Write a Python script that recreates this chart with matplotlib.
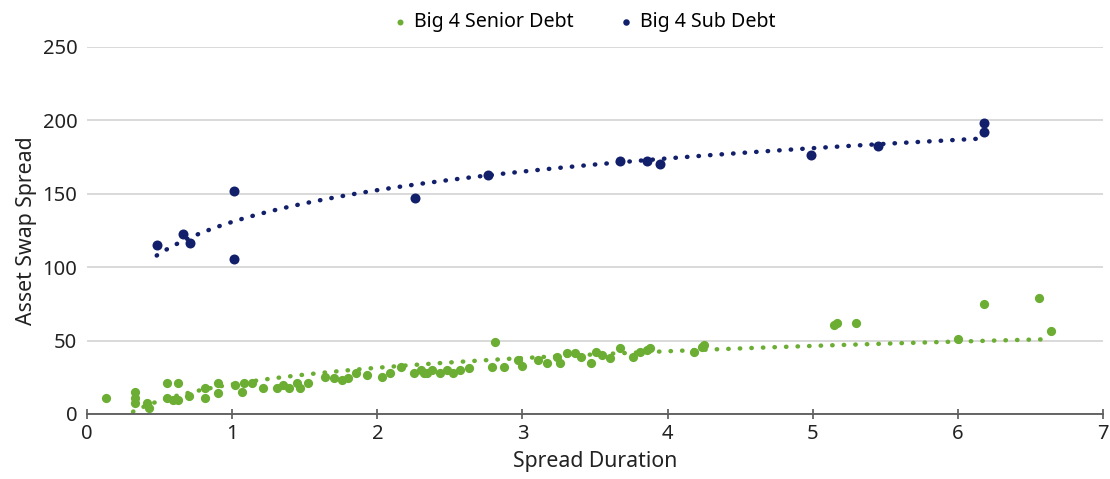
"""Asset swap spread vs spread duration for Big 4 senior and sub debt."""

import matplotlib

matplotlib.use("Agg")
import matplotlib.pyplot as plt
import numpy as np

GREEN = "#6cae34"
NAVY = "#121f6b"

senior_duration = [
    0.13, 0.33, 0.33, 0.33, 0.41, 0.43, 0.55, 0.63, 0.55, 0.59, 0.63, 0.70,
    0.81, 0.81, 0.90, 0.90, 1.02, 1.07, 1.08, 1.14, 1.21, 1.31, 1.35, 1.39,
    1.45, 1.47, 1.52, 1.64, 1.70, 1.76, 1.80, 1.85, 1.93, 2.03, 2.09, 2.16,
    2.25, 2.30, 2.34, 2.32, 2.38, 2.43, 2.48, 2.52, 2.57, 2.63, 2.81, 2.79,
    2.87, 2.97, 3.00, 3.11, 3.17, 3.24, 3.26, 3.31, 3.36, 3.40, 3.47, 3.51,
    3.55, 3.60, 3.67, 3.76, 3.81, 3.86, 3.88, 4.18, 4.24, 4.25, 5.15, 5.17,
    5.30, 6.00, 6.18, 6.56, 6.64,
]
senior_spread = [
    11, 15, 11, 7.5, 7.5, 4, 21, 21, 11, 9.5, 9.5, 12,
    18, 11, 21, 14, 20, 15, 21, 21, 18, 18, 20, 18,
    21, 18, 21, 25, 24.5, 23, 24.5, 28, 26.5, 25, 28, 32,
    28, 30, 28, 28, 30, 28, 30, 28, 30, 31, 49, 32,
    32, 37, 33, 37, 35, 39, 35, 41.5, 41.5, 39, 35, 42,
    40, 38, 45, 39, 42, 43.5, 45, 42, 45.5, 47, 60.5, 62,
    62, 51, 75, 79, 56.5,
]

sub_duration = [0.48, 0.66, 0.71, 1.01, 1.01, 2.26, 2.76, 3.67, 3.86, 3.95,
                4.99, 5.45, 6.18, 6.18]
sub_spread = [115, 122.5, 116.5, 152, 105.5, 147, 163, 172.5, 172, 170,
              176.5, 182.5, 198.5, 192]

x_ticks = [0, 1, 2, 3, 4, 5, 6, 7]
y_ticks = [0, 50, 100, 150, 200, 250]


def log_trend(x, y):
    """Logarithmic trendline across the data range, like a spreadsheet fit."""
    x = np.asarray(x)
    slope, intercept = np.polyfit(np.log(x), np.asarray(y), 1)
    xs = np.linspace(x.min(), x.max(), 300)
    return xs, intercept + slope * np.log(xs)


plt.rcParams["font.family"] = ["Noto Sans", "DejaVu Sans"]

fig = plt.figure(figsize=(11.1, 4.79), dpi=100)
ax = fig.add_axes([0.0784, 0.1357, 0.9153, 0.7662])

ax.scatter(senior_duration, senior_spread, s=44, color=GREEN, linewidths=0,
           zorder=3, label="Big 4 Senior Debt")
ax.scatter(sub_duration, sub_spread, s=52, color=NAVY, linewidths=0,
           zorder=3, label="Big 4 Sub Debt")

for xs_data, ys_data, colour in [(senior_duration, senior_spread, GREEN),
                                 (sub_duration, sub_spread, NAVY)]:
    tx, ty = log_trend(xs_data, ys_data)
    ax.plot(tx, ty, color=colour, linewidth=3.2, linestyle=(0, (0.1, 2.5)),
            dash_capstyle="round", zorder=2)

ax.set_xlim(0, 7)
ax.set_ylim(0, 250)
ax.set_xticks(x_ticks)
ax.set_yticks(y_ticks)
ax.yaxis.grid(True, color="#d9d9d9", linewidth=1.4)
ax.set_axisbelow(True)
for side in ["left", "right", "top"]:
    ax.spines[side].set_visible(False)
ax.spines["bottom"].set_color("#595959")
ax.spines["bottom"].set_linewidth(1.3)
ax.tick_params(axis="x", direction="inout", length=7, width=1.2,
               color="#595959", labelsize=14.5, labelcolor="#222222", pad=4)
ax.tick_params(axis="y", length=0, labelsize=14.5, labelcolor="#222222", pad=7)

ax.set_xlabel("Spread Duration", fontsize=15.3, color="#222222", labelpad=5)
ax.set_ylabel("Asset Swap Spread", fontsize=15.3, color="#222222", labelpad=4)

ax.legend(loc="center", bbox_to_anchor=(0.49, 1.068), ncol=2, frameon=False,
          fontsize=14.1, markerscale=0.65, handlelength=0.6,
          handletextpad=0.4, columnspacing=2.4)

fig.savefig("out.png", dpi=100)
